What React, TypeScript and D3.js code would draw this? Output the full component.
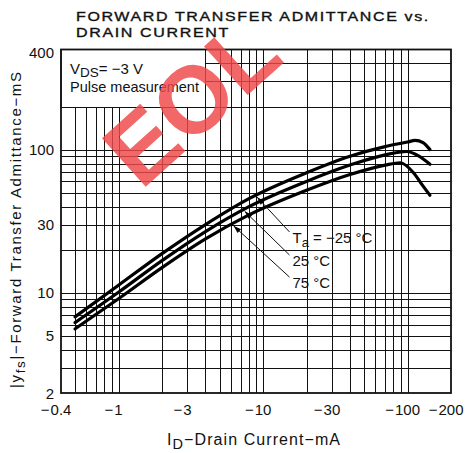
import React, { useEffect, useRef } from 'react';
import * as d3 from 'd3';

// |I_D| in mA and |yfs| in mS
const ID_COLD = [0.5, 1, 2, 4, 8, 20, 40, 70, 100, 113, 128, 143];
const YFS_COLD = [6.8, 11.3, 18.8, 30, 45.5, 69, 90, 105, 113, 116, 112, 100];

const ID_ROOM = [0.5, 1, 2, 4, 8, 20, 40, 70, 99, 120, 143];
const YFS_ROOM = [6.2, 10.1, 16.8, 26.8, 40, 60, 78, 92, 97, 90, 79];

const ID_HOT = [0.5, 1, 2, 4, 8, 20, 40, 70, 89, 110, 126, 143];
const YFS_HOT = [5.6, 9.1, 15, 23.8, 35, 52, 67, 78, 81, 69, 57, 48];

const X_DOMAIN: [number, number] = [0.4, 200];
const Y_DOMAIN: [number, number] = [2, 500];
const X_TICKS = [0.4, 1, 3, 10, 30, 100, 200];
const Y_TICKS = [2, 5, 10, 30, 100];
const Y_TOP_LABEL = '400';

// where each leader arrow touches its curve (mA) and where its label sits (mA, mS)
const ARROW_AT = [8.9, 7.3, 6.1];
const LABEL_AT: [number, number][] = [[16, 22.3], [16, 15.4], [16, 10.8]];
const TEMP_TEXT = ['−25 °C', '25 °C', '75 °C'];

const FONT = '"Liberation Sans", Arial, Helvetica, sans-serif';

export default function App() {
  const svgRef = useRef<SVGSVGElement>(null);
  const width = 466;
  const height = 453;

  useEffect(() => {
    if (!svgRef.current) return;
    const svg = d3.select(svgRef.current);
    svg.selectAll('*').remove();

    const left = 61, right = 451, top = 49.5, bottom = 393;

    const x = d3.scaleLog().domain(X_DOMAIN).range([left, right]);
    const y = d3.scaleLog().domain(Y_DOMAIN).range([bottom, top]);

    svg.append('rect').attr('width', width).attr('height', height).attr('fill', '#fff');

    // Title: wide, extended capitals, stretched to the width they take on the sheet
    const titleLine = (txt: string, ty: number, w: number) => {
      const t = svg.append('text')
        .attr('y', 0)
        .style('font-family', FONT)
        .style('font-size', '12.8px')
        .style('letter-spacing', '1.3px')
        .attr('fill', '#111')
        .attr('stroke', '#111')
        .attr('stroke-width', 0.35)
        .text(txt);
      const nat = (t.node() as SVGTextElement).getComputedTextLength();
      t.attr('transform', `translate(76,${ty}) scale(${w / nat},1)`);
    };
    titleLine('FORWARD TRANSFER ADMITTANCE vs.', 20.5, 354);
    titleLine('DRAIN CURRENT', 36.5, 154);

    // Grid: every k·10^n inside the domain
    const grid = svg.append('g').attr('stroke', '#111').attr('stroke-width', 1);
    const minor = (lo: number, hi: number) => {
      const out: number[] = [];
      for (let e = Math.floor(Math.log10(lo)); e <= Math.ceil(Math.log10(hi)); e++) {
        for (let k = 1; k <= 9; k++) {
          const v = +(k * Math.pow(10, e)).toPrecision(3);
          if (v > lo * 1.0001 && v < hi * 0.9999) out.push(v);
        }
      }
      return out;
    };
    minor(X_DOMAIN[0], X_DOMAIN[1]).forEach(v => {
      grid.append('line')
        .attr('x1', Math.round(x(v)) + 0.5).attr('x2', Math.round(x(v)) + 0.5)
        .attr('y1', top).attr('y2', bottom);
    });
    minor(Y_DOMAIN[0], Y_DOMAIN[1]).forEach(v => {
      grid.append('line')
        .attr('x1', left).attr('x2', right)
        .attr('y1', Math.round(y(v)) + 0.5).attr('y2', Math.round(y(v)) + 0.5);
    });

    // Condition box in the upper-left corner
    svg.append('rect')
      .attr('x', left).attr('y', top)
      .attr('width', Math.round(x(4)) + 0.5 - left)
      .attr('height', Math.round(y(200)) + 0.5 - top)
      .attr('fill', '#fff').attr('stroke', '#111').attr('stroke-width', 1);

    const cond = svg.append('g').style('font-family', FONT).attr('fill', '#111');
    const vds = cond.append('text').attr('x', 70).attr('y', 73.5).style('font-size', '15px');
    vds.append('tspan').text('V');
    vds.append('tspan').attr('dy', 3).style('font-size', '13.5px').text('DS');
    vds.append('tspan').attr('dy', -3).text('= −3 V');
    cond.append('text').attr('x', 70).attr('y', 92).style('font-size', '14.5px')
      .text('Pulse measurement');

    // Frame
    svg.append('rect')
      .attr('x', left).attr('y', top)
      .attr('width', right - left).attr('height', bottom - top)
      .attr('fill', 'none').attr('stroke', '#111').attr('stroke-width', 1.8);

    // Curves
    const series = [
      { id: ID_COLD, v: YFS_COLD },
      { id: ID_ROOM, v: YFS_ROOM },
      { id: ID_HOT, v: YFS_HOT },
    ];
    const line = d3.line<[number, number]>()
      .x(d => x(d[0]))
      .y(d => y(d[1]))
      .curve(d3.curveMonotoneX);

    series.forEach(s => {
      const pts = s.id.map((id, i) => [id, s.v[i]] as [number, number]);
      svg.append('path')
        .attr('d', line(pts))
        .attr('fill', 'none')
        .attr('stroke', '#000')
        .attr('stroke-width', 3.2)
        .attr('stroke-linecap', 'round')
        .attr('stroke-linejoin', 'round');
    });

    // value on a series at a given current (log-log interpolation)
    const valueAt = (s: { id: number[]; v: number[] }, id: number) => {
      const lx = s.id.map(Math.log10);
      const ly = s.v.map(Math.log10);
      const interp = d3.scaleLinear().domain(lx).range(ly);
      return Math.pow(10, interp(Math.log10(id)));
    };

    // Leader lines with arrowheads and temperature labels
    const ann = svg.append('g').style('font-family', FONT).attr('fill', '#111');
    series.forEach((s, i) => {
      const lx = x(LABEL_AT[i][0]);
      const ly = y(LABEL_AT[i][1]);
      const sx = lx - 3, sy = ly - 11;
      const cx = x(ARROW_AT[i]);
      const cy = y(valueAt(s, ARROW_AT[i]));
      const dx = sx - cx, dy = sy - cy;
      const len = Math.hypot(dx, dy);
      const ux = dx / len, uy = dy / len;
      const tx = cx + ux * 2, ty = cy + uy * 2;
      ann.append('line')
        .attr('x1', sx).attr('y1', sy).attr('x2', tx).attr('y2', ty)
        .attr('stroke', '#111').attr('stroke-width', 1);
      const hl = 8, hw = 2.6;
      const bx = tx + ux * hl, by = ty + uy * hl;
      ann.append('path')
        .attr('d', `M${tx},${ty}L${bx - uy * hw},${by + ux * hw}L${bx + uy * hw},${by - ux * hw}Z`)
        .attr('fill', '#000');

      const t = ann.append('text').attr('x', lx).attr('y', ly).style('font-size', '15px');
      if (i === 0) {
        t.append('tspan').text('T');
        t.append('tspan').attr('dy', 4).style('font-size', '13px').text('a');
        t.append('tspan').attr('dy', -4).text(' = ' + TEMP_TEXT[i]);
      } else {
        t.text(TEMP_TEXT[i]);
      }
    });

    // X tick labels: the number is centred on the grid line, the minus sign hangs in front
    const xt = svg.append('g').style('font-family', FONT).style('font-size', '15px').attr('fill', '#111');
    X_TICKS.forEach(v => {
      const px = x(v);
      const num = xt.append('text').attr('x', px).attr('y', 415)
        .attr('text-anchor', 'middle').text(String(v));
      const w = (num.node() as SVGTextElement).getComputedTextLength();
      xt.append('text').attr('x', px - w / 2 - 1).attr('y', 415)
        .attr('text-anchor', 'end').text('−');
    });

    // Y tick labels
    const yt = svg.append('g').style('font-family', FONT).style('font-size', '15px')
      .attr('fill', '#111').attr('text-anchor', 'end');
    Y_TICKS.forEach(v => {
      yt.append('text').attr('x', 54).attr('y', y(v) + 5.5).text(String(v));
    });
    yt.append('text').attr('x', 54).attr('y', top + 8).text(Y_TOP_LABEL);

    // Axis titles
    const xl = svg.append('text')
      .attr('x', 167).attr('y', 445)
      .attr('textLength', 173).attr('lengthAdjust', 'spacing')
      .style('font-family', FONT).style('font-size', '16px').attr('fill', '#111');
    xl.append('tspan').text('I');
    xl.append('tspan').attr('dy', 4).style('font-size', '14.5px').text('D');
    xl.append('tspan').attr('dy', -4).text('−Drain Current−mA');

    const yl = svg.append('text')
      .attr('transform', `translate(21,388) rotate(-90)`)
      .attr('textLength', 316).attr('lengthAdjust', 'spacing')
      .style('font-family', FONT).style('font-size', '15px').attr('fill', '#111');
    yl.append('tspan').text('|y');
    yl.append('tspan').attr('dy', 4).style('font-size', '13.5px').text('fs');
    yl.append('tspan').attr('dy', -4).text('|−Forward Transfer Admittance−mS');

    // Red "EOL" watermark stamped over the sheet
    svg.append('text')
      .attr('transform', 'translate(141,191) rotate(-42)')
      .style('font-family', FONT)
      .style('font-size', '95px')
      .style('font-weight', 'bold')
      .attr('fill', '#f04848')
      .attr('opacity', 0.82)
      .text('EOL');
  }, []);

  return (
    <div style={{ position: 'absolute', left: 0, top: 0 }}>
      <svg ref={svgRef} width={width} height={height} style={{ display: 'block' }} />
    </div>
  );
}
